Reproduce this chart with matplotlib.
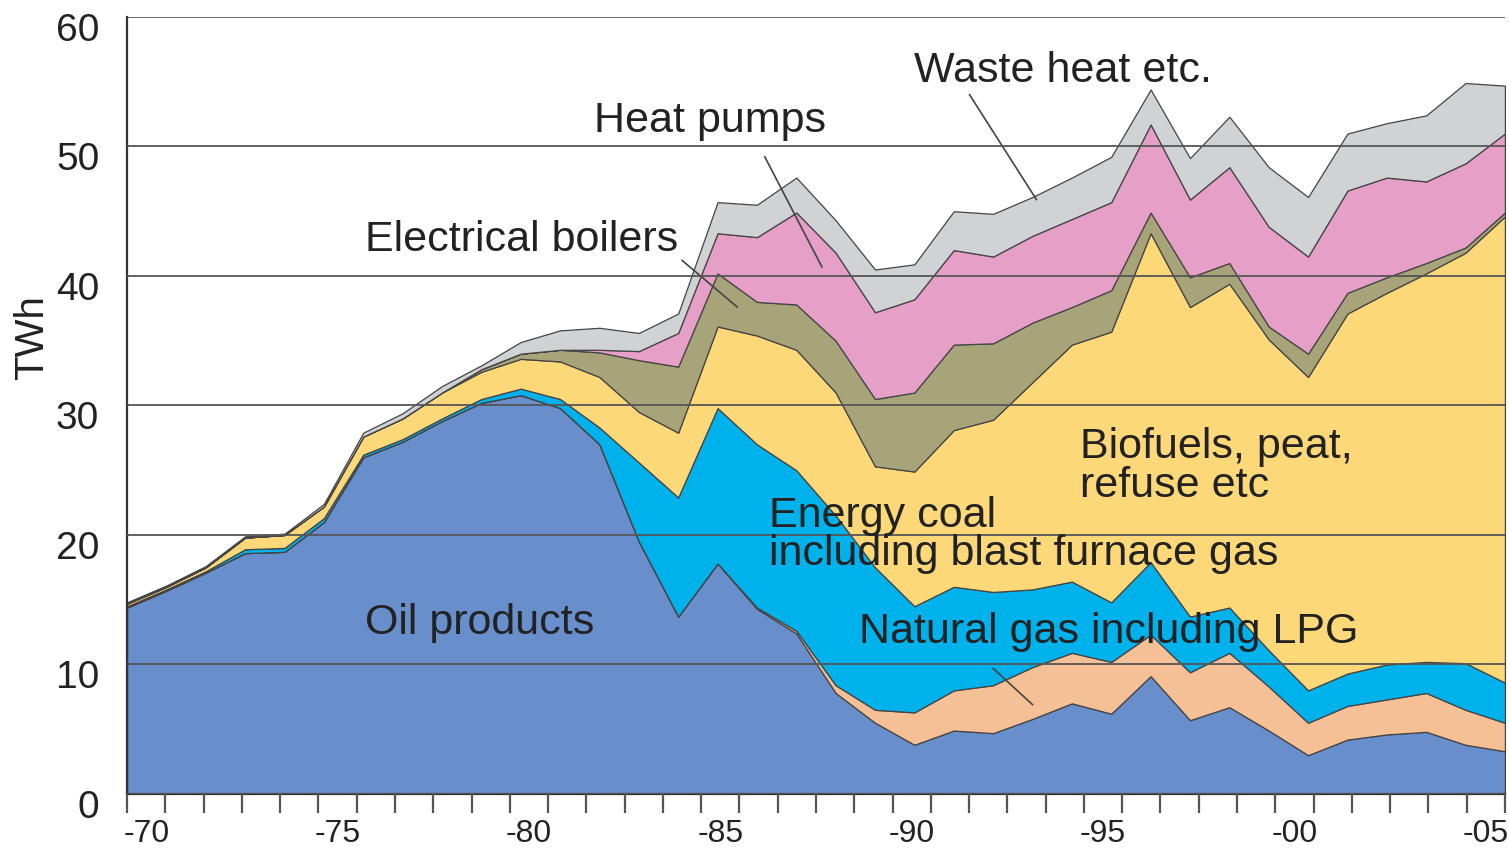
import numpy as np
import matplotlib.pyplot as plt
from matplotlib.transforms import ScaledTranslation

plt.rcParams['font.family'] = ['Liberation Sans', 'DejaVu Sans']

# Data (TWh), one value per year 1970-2005

years = np.arange(1970, 2006)

oil = [14.4, 15.7, 17.1, 18.6, 18.7, 21.0, 26.0, 27.2, 28.8, 30.2,
       30.8, 29.8, 27.0, 19.5, 13.7, 17.8, 14.3, 12.4, 7.8, 5.5,
       3.8, 4.9, 4.7, 5.8, 7.0, 6.2, 9.1, 5.7, 6.7, 4.9,
       3.0, 4.2, 4.6, 4.8, 3.8, 3.3]
gas = [0, 0, 0, 0, 0, 0, 0, 0, 0, 0,
       0, 0, 0, 0, 0, 0, 0.1, 0.2, 0.6, 1.0,
       2.5, 3.1, 3.7, 4.0, 3.9, 4.0, 3.2, 3.7, 4.2, 3.4,
       2.5, 2.6, 2.7, 3.0, 2.7, 2.2]
coal = [0.1, 0.1, 0.1, 0.3, 0.3, 0.3, 0.2, 0.2, 0.2, 0.3,
        0.5, 0.7, 1.3, 6.1, 9.2, 12.0, 12.6, 12.4, 13.1, 11.0,
        8.2, 8.0, 7.2, 6.0, 5.5, 4.6, 5.6, 4.3, 3.5, 2.8,
        2.5, 2.5, 2.7, 2.4, 3.6, 3.1]
biofuels = [0.2, 0.2, 0.3, 0.9, 1.0, 0.9, 1.4, 1.6, 2.0, 2.1,
            2.3, 2.9, 3.9, 3.9, 5.0, 6.3, 8.4, 9.3, 9.5, 7.8,
            10.4, 12.1, 13.3, 16.0, 18.3, 20.9, 25.4, 23.9, 25.0, 24.0,
            24.2, 27.8, 28.7, 30.0, 31.7, 36.0]
boilers = [0, 0, 0, 0, 0, 0, 0, 0, 0, 0.2,
           0.4, 0.9, 1.9, 4.0, 5.1, 4.1, 2.6, 3.5, 4.0, 5.2,
           6.1, 6.6, 5.9, 4.6, 2.9, 3.2, 1.6, 2.3, 1.6, 1.0,
           1.8, 1.6, 1.2, 0.8, 0.4, 0.3]
heat_pumps = [0, 0, 0, 0, 0, 0, 0, 0, 0, 0,
              0, 0, 0.2, 0.7, 2.6, 3.1, 5.0, 7.1, 6.8, 6.7,
              7.2, 7.3, 6.7, 6.7, 6.8, 6.8, 6.8, 6.0, 7.4, 7.7,
              7.5, 7.9, 7.7, 6.3, 6.5, 6.1]
waste_heat = [0.1, 0.1, 0.1, 0.1, 0.1, 0.2, 0.3, 0.4, 0.5, 0.3,
              0.9, 1.5, 1.7, 1.4, 1.5, 2.4, 2.5, 2.7, 2.5, 3.3,
              2.7, 3.0, 3.3, 3.0, 3.2, 3.5, 2.7, 3.2, 3.9, 4.6,
              4.6, 4.4, 4.2, 5.1, 6.2, 3.7]

colors = ['#688ecc', '#f6c096', '#00b2ec', '#fcd878', '#a8a47a', '#e6a0c8', '#d0d2d4']

xlabels = ['-70', '-75', '-80', '-85', '-90', '-95', '-00', '-05']

# Labels and leader lines

labels = [
    ('Waste heat etc.', 1990.0, 55.8),
    ('Heat pumps', 1981.85, 52.0),
    ('Electrical boilers', 1976.05, 42.8),
    ('Oil products', 1976.05, 13.2),
    ('Energy coal\nincluding blast furnace gas', 1986.3, 20.0),
    ('Biofuels, peat,\nrefuse etc', 1994.2, 25.3),
    ('Natural gas including LPG', 1988.6, 12.5),
]
leaders = [
    ((1991.4, 54.0), (1993.1, 45.9)),
    ((1986.2, 49.2), (1987.65, 40.7)),
    ((1984.1, 41.2), (1985.5, 37.6)),
    ((1992.0, 9.7), (1993.0, 6.9)),
]

fig = plt.figure(figsize=(15.09, 8.49), dpi=100)
ax = fig.add_axes([0.0842, 0.0648, 0.9131, 0.9152])

ax.stackplot(years, oil, gas, coal, biofuels, boilers, heat_pumps, waste_heat,
             colors=colors, edgecolor='#444444', linewidth=0.9)

ax.set_xlim(1970, 2005)
ax.set_ylim(0, 60)

# grid over the areas
ax.set_axisbelow(False)
ax.yaxis.grid(True, color='#555555', linewidth=1.3)
ax.set_yticks(np.arange(0, 61, 10))
ax.tick_params(axis='y', length=0, pad=20, labelsize=28, labelcolor='#222222')
offset = ScaledTranslation(0, -0.10, fig.dpi_scale_trans)
for lab in ax.get_yticklabels():
    lab.set_transform(lab.get_transform() + offset)

# year boundaries as ticks, labels in the middle of each year
edges = np.linspace(1970, 2005, 37)
ax.set_xticks(edges)
ax.set_xticklabels([])
ax.set_xticks((edges[:-1:5] + edges[1::5]) / 2, labels=xlabels, minor=True)
ax.tick_params(axis='x', which='major', direction='out', length=14, width=1.6, color='#555555')
ax.tick_params(axis='x', which='minor', length=0, pad=18, labelsize=23, labelcolor='#222222')

for s in ['top', 'right']:
    ax.spines[s].set_visible(False)
ax.spines['left'].set_color('#333333')
ax.spines['left'].set_linewidth(1.6)
ax.spines['bottom'].set_color('#333333')
ax.spines['bottom'].set_linewidth(1.6)

ax.set_ylabel('TWh', fontsize=29, color='#222222')
ax.yaxis.set_label_coords(-0.055, 0.588)

for text, x, y in labels:
    ax.text(x, y, text, fontsize=31, color='#222222', ha='left', va='center', linespacing=0.95)

for (x0, y0), (x1, y1) in leaders:
    ax.plot([x0, x1], [y0, y1], color='#444444', linewidth=1.2)

plt.savefig('out.png', dpi=100)
